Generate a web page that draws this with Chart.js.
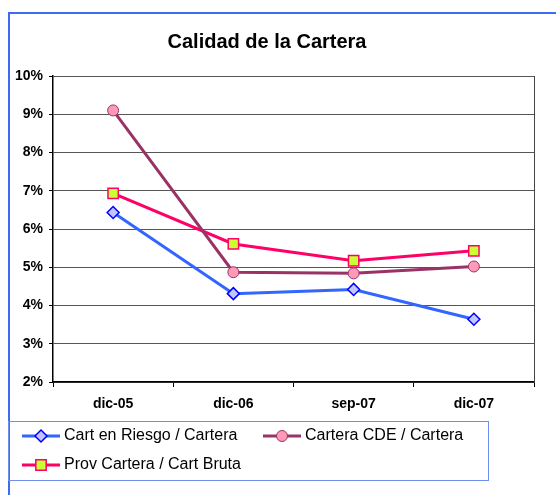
<!DOCTYPE html>
<html>
<head>
<meta charset="utf-8">
<script src="https://cdn.jsdelivr.net/npm/chart.js@4"></script>
<style>
  html, body { margin: 0; padding: 0; background: #fff; }
  #marco { position: absolute; left: 0; top: 0; width: 556px; height: 495px; overflow: hidden; }
  #borde { position: absolute; left: 8px; top: 12px; width: 600px; height: 600px;
           border-left: 2px solid #3d6bf2; border-top: 2px solid #3d6bf2; }
  canvas { position: absolute; left: 0; top: 0; }
</style>
</head>
<body>
<div id="marco">
  <div id="borde"></div>
  <canvas id="miGrafico" width="556" height="495"></canvas>
</div>
<script>
// Datos (en %)
const categorias = ['dic-05', 'dic-06', 'sep-07', 'dic-07'];
const cartRiesgo = [6.43, 4.31, 4.42, 3.64];
const carteraCDE = [9.10, 4.87, 4.84, 5.02];
const provCartera = [6.93, 5.61, 5.17, 5.43];
const etiquetasY = ['2%', '3%', '4%', '5%', '6%', '7%', '8%', '9%', '10%'];

// Leyenda dibujada a mano (línea + marcador, como en Excel)
function dibujarMarcador(ctx, ds, x, y) {
    ctx.save();
    ctx.fillStyle = ds.pointBackgroundColor;
    ctx.strokeStyle = ds.pointBorderColor;
    ctx.lineWidth = ds.pointBorderWidth;
    const r = ds.pointRadius;
    ctx.beginPath();
    if (ds.pointStyle === 'rectRot') {
        ctx.moveTo(x, y - r); ctx.lineTo(x + r, y); ctx.lineTo(x, y + r); ctx.lineTo(x - r, y); ctx.closePath();
    } else if (ds.pointStyle === 'rect') {
        const s = 5.2;
        ctx.rect(x - s, y - s, 2 * s, 2 * s);
    } else {
        ctx.arc(x, y, r, 0, Math.PI * 2);
    }
    ctx.fill(); ctx.stroke();
    ctx.restore();
}

const leyendaExcel = {
    id: 'leyendaExcel',
    afterDraw(chart) {
        const ctx = chart.ctx;
        const area = chart.chartArea;
        ctx.save();
        // marco del área de trazado
        ctx.strokeStyle = '#444';
        ctx.lineWidth = 1;
        ctx.beginPath();
        ctx.moveTo(area.right + 0.5, area.top);
        ctx.lineTo(area.right + 0.5, area.bottom);
        ctx.stroke();
        // caja de la leyenda
        ctx.strokeStyle = '#6f8ff0';
        ctx.strokeRect(8.5, 421.5, 480, 59);
        ctx.font = '16px "Liberation Sans", Arial, sans-serif';
        ctx.fillStyle = '#000';
        ctx.textBaseline = 'middle';
        const pos = [[22, 436], [263, 436], [22, 465]];
        chart.data.datasets.forEach((ds, i) => {
            const [x, y] = pos[i];
            ctx.strokeStyle = ds.borderColor;
            ctx.lineWidth = 3;
            ctx.beginPath(); ctx.moveTo(x, y); ctx.lineTo(x + 38, y); ctx.stroke();
            dibujarMarcador(ctx, ds, x + 19, y);
            ctx.fillStyle = '#000';
            ctx.fillText(ds.label, x + 42, y);
        });
        ctx.restore();
    }
};

const ctx = document.getElementById('miGrafico').getContext('2d');
new Chart(ctx, {
    type: 'line',
    data: {
        labels: categorias,
        datasets: [{
            label: 'Cart en Riesgo / Cartera',
            data: cartRiesgo,
            borderColor: '#3366ff', borderWidth: 3,
            pointStyle: 'rectRot', pointRadius: 6,
            pointBackgroundColor: '#c0c4ff', pointBorderColor: '#0000ff', pointBorderWidth: 1.5
        }, {
            label: 'Cartera CDE / Cartera',
            data: carteraCDE,
            borderColor: '#993366', borderWidth: 3,
            pointStyle: 'circle', pointRadius: 5.5,
            pointBackgroundColor: '#ff99b8', pointBorderColor: '#993366', pointBorderWidth: 1
        }, {
            label: 'Prov Cartera / Cart Bruta',
            data: provCartera,
            borderColor: '#ff0066', borderWidth: 3,
            pointStyle: 'rect', pointRadius: 7.3,
            pointBackgroundColor: '#ccff33', pointBorderColor: '#ff0066', pointBorderWidth: 1.5
        }]
    },
    options: {
        responsive: false,
        animation: false,
        layout: { padding: { left: 0, right: 22, top: 0, bottom: 0 } },
        plugins: {
            legend: { display: false },
            tooltip: { enabled: false },
            title: {
                display: true,
                text: 'Calidad de la Cartera',
                color: '#000',
                font: { family: '"Liberation Sans", Arial, sans-serif', size: 20, weight: 'bold' },
                padding: { top: 30, bottom: 22 }
            }
        },
        scales: {
            x: {
                offset: true,
                afterFit: s => { s.height = 113; },
                grid: { offset: true, drawOnChartArea: false, drawTicks: true, tickLength: 5, color: '#000' },
                border: { color: '#000', width: 1.5 },
                ticks: {
                    color: '#000', padding: 9,
                    font: { family: '"Liberation Sans", Arial, sans-serif', size: 14, weight: 'bold' }
                }
            },
            y: {
                min: 2, max: 10,
                afterFit: s => { s.width = 53; },
                grid: { color: '#555', lineWidth: 1, tickLength: 4, tickColor: '#000' },
                border: { color: '#000', width: 1.5 },
                ticks: {
                    stepSize: 1, color: '#000', padding: 6,
                    font: { family: '"Liberation Sans", Arial, sans-serif', size: 14, weight: 'bold' },
                    callback: v => etiquetasY[v - 2]
                }
            }
        }
    },
    plugins: [leyendaExcel]
});
</script>
</body>
</html>
